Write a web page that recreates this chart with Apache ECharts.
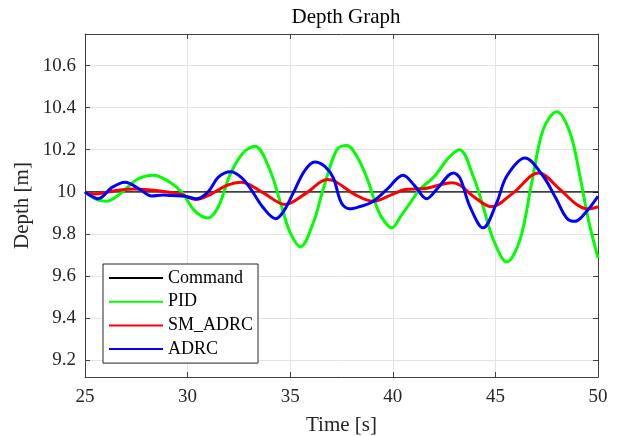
<!DOCTYPE html>
<html>
<head>
<meta charset="utf-8">
<script src="https://cdn.jsdelivr.net/npm/echarts@6/dist/echarts.min.js"></script>
<style>html,body{margin:0;padding:0;background:#fff}#c{width:619px;height:436px}</style>
</head>
<body>
<div id="c"></div>
<script>
var seriesNames = ['Command', 'PID', 'SM_ADRC', 'ADRC'];
var xTicks = [25, 30, 35, 40, 45, 50];
var yTicks = [9.2, 9.4, 9.6, 9.8, 10, 10.2, 10.4, 10.6];

var cmdT = [25, 50];
var cmdV = [10, 10];

var pidT = [25.0,25.5,26.05,26.5,26.95,27.6,28.33,29.06,29.7,30.36,31.0,31.5,32.07,32.7,33.28,34.0,34.58,35.0,35.5,36.13,36.6,37.27,37.75,38.3,38.8,39.1,39.45,39.95,40.43,40.9,41.3,42.0,42.7,43.25,43.92,44.4,44.9,45.55,46.2,46.77,47.33,47.98,48.64,49.12,49.53,50.0];
var pidV = [10.0,9.967,9.955,9.975,10.011,10.062,10.079,10.05,10.0,9.908,9.876,9.93,10.082,10.185,10.217,10.106,9.93,9.806,9.739,9.854,10.01,10.2,10.22,10.16,10.05,9.96,9.88,9.829,9.89,9.955,10.01,10.07,10.16,10.2,10.074,9.93,9.773,9.667,9.773,10.043,10.296,10.38,10.28,10.074,9.868,9.686];

var smT = [25.0,25.49,26.0,26.6,27.44,28.74,29.7,30.4,31.1,31.9,32.63,33.69,34.75,35.8,36.8,37.18,38.16,39.05,39.95,40.6,41.57,42.9,43.3,43.92,44.8,45.87,47.1,48.15,48.96,49.5,50.0];
var smV = [10.0,9.99,9.997,10.008,10.014,10.003,9.987,9.963,9.987,10.03,10.046,9.995,9.94,9.995,10.058,10.05,9.987,9.955,9.987,10.011,10.016,10.043,10.03,9.979,9.929,9.995,10.09,10.011,9.94,9.919,9.929];

var adT = [25.0,25.3,25.65,26.3,26.95,27.68,28.25,28.8,29.2,29.87,30.44,31.0,31.5,32.1,32.6,33.04,33.69,34.3,34.7,35.15,35.7,36.2,36.7,37.1,37.5,37.9,38.4,38.97,39.7,40.5,41.08,41.65,42.2,42.95,43.27,43.76,44.4,45.06,45.55,46.44,47.33,47.98,48.47,48.88,49.45,50.0];
var adV = [10.0,9.98,9.967,10.02,10.046,10.011,9.98,9.985,9.982,9.979,9.967,10.0,10.07,10.095,10.07,10.019,9.924,9.872,9.91,9.995,10.1,10.142,10.12,10.066,9.947,9.919,9.93,9.95,10.01,10.079,10.027,9.967,10.019,10.09,10.066,9.93,9.829,9.947,10.074,10.161,10.074,9.963,9.876,9.86,9.908,9.979];

function zip(t, v) { return t.map(function (x, i) { return [x, v[i]]; }); }

var FONT = 'Liberation Serif';
var chart = echarts.init(document.getElementById('c'), null, {renderer: 'canvas'});

var axisCommon = {
  axisLine: {show: true, lineStyle: {color: '#404040', width: 1}},
  axisTick: {show: true, inside: true, length: 5, lineStyle: {color: '#404040'}},
};

chart.setOption({
  animation: false,
  backgroundColor: '#fff',
  title: {
    text: 'Depth Graph', left: 341, top: 2, textAlign: 'center',
    textStyle: {fontFamily: FONT, fontSize: 21, fontWeight: 'normal', color: '#000'}
  },
  grid: {left: 85, right: 21, top: 34, bottom: 59, containLabel: false, outerBoundsMode: 'none'},
  legend: {
    data: seriesNames,
    orient: 'vertical', left: 103, top: 264,
    itemWidth: 54, itemHeight: 14, itemGap: 5.7,
    padding: [5, 5, 5, 5],
    backgroundColor: '#fff', borderColor: '#262626', borderWidth: 1, borderRadius: 0,
    itemStyle: {opacity: 0},
    textStyle: {fontFamily: FONT, fontSize: 18, color: '#000', padding: [0,0,0,0]},
    selectedMode: false
  },
  xAxis: [
    Object.assign({
      type: 'value', min: xTicks[0], max: xTicks[xTicks.length - 1], interval: 5, position: 'bottom',
      name: 'Time [s]', nameLocation: 'middle', nameGap: 38,
      nameTextStyle: {fontFamily: FONT, fontSize: 21, color: '#262626'},
      axisLabel: {fontFamily: FONT, fontSize: 19, color: '#262626', margin: 11},
      splitLine: {show: true, lineStyle: {color: '#e3e3e3', width: 1}}
    }, axisCommon),
    Object.assign({
      type: 'value', min: xTicks[0], max: xTicks[xTicks.length - 1], interval: 5, position: 'top',
      axisLabel: {show: false}, splitLine: {show: false}
    }, axisCommon)
  ],
  yAxis: [
    Object.assign({
      type: 'value', min: 9.12, max: 10.75, splitNumber: 8, position: 'left',
      name: 'Depth [m]', nameLocation: 'middle', nameGap: 52, nameRotate: 90, nameMoveOverlap: false,
      nameTextStyle: {fontFamily: FONT, fontSize: 21, color: '#262626'},
      axisLabel: {fontFamily: FONT, fontSize: 19, color: '#262626', margin: 9, showMinLabel: false, showMaxLabel: false,
        formatter: function (v) { return yTicks.some(function (t) { return Math.abs(t - v) < 1e-6; }) ? String(+v.toFixed(1)) : ''; }},
      splitLine: {show: true, lineStyle: {color: '#e3e3e3', width: 1}}
    }, axisCommon),
    Object.assign({
      type: 'value', min: 9.12, max: 10.75, splitNumber: 8, position: 'right',
      axisLabel: {show: false}, splitLine: {show: false}
    }, axisCommon)
  ],
  series: [
    {name: 'Command', type: 'line', data: zip(cmdT, cmdV), symbol: 'none', lineStyle: {color: '#000', width: 1.2}, itemStyle: {color: '#000'}},
    {name: 'PID', type: 'line', data: zip(pidT, pidV), symbol: 'none', smooth: 0.35, lineStyle: {color: '#00ff00', width: 3}, itemStyle: {color: '#00ff00'}},
    {name: 'SM_ADRC', type: 'line', data: zip(smT, smV), symbol: 'none', smooth: 0.35, lineStyle: {color: '#ff0000', width: 3}, itemStyle: {color: '#ff0000'}},
    {name: 'ADRC', type: 'line', data: zip(adT, adV), symbol: 'none', smooth: 0.35, lineStyle: {color: '#0000ff', width: 3}, itemStyle: {color: '#0000ff'}}
  ]
});
</script>
</body>
</html>
